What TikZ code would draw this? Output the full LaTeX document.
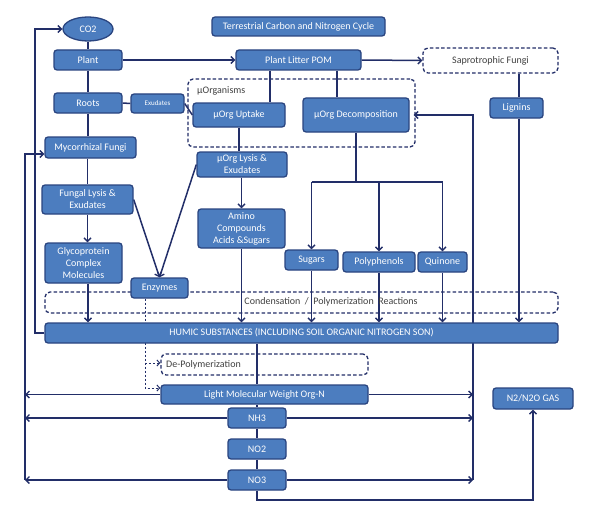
\documentclass[tikz,border=0pt]{standalone}
\usepackage{fontspec}
\setmainfont{Carlito}
\usetikzlibrary{arrows.meta,shapes.geometric}
\pgfdeclarelayer{bg}
\pgfdeclarelayer{paper}
\pgfsetlayers{paper,bg,main}
\definecolor{boxfill}{HTML}{4C7DBF}
\definecolor{boxline}{HTML}{2A4580}
\definecolor{conn}{HTML}{222E68}
\definecolor{gtext}{HTML}{404040}
\begin{document}
\begin{tikzpicture}[x=1pt,y=-1pt,
  txt/.style={font=\fontsize{10}{12}\selectfont},
  bx/.style={txt,draw=boxline,line width=1.3pt,fill=boxfill,rounded corners=3pt,text=white,inner sep=0pt,align=center},
  dbox/.style={draw=conn,line width=1.3pt,dash pattern=on 3.5pt off 2.2pt,rounded corners=5pt,inner sep=0pt},
  gt/.style={txt,text=gtext,inner sep=0pt},
  ln/.style={draw=conn,line width=1.5pt},
  ar/.style={ln,-{Straight Barb[length=3.5pt,width=7pt,line width=1.4pt]}},
  dar/.style={draw=conn,line width=1pt,dash pattern=on 2.4pt off 1.6pt,-{Straight Barb[length=2.8pt,width=6pt,line width=1pt]}}
]
\begin{pgfonlayer}{paper}
\useasboundingbox[fill=white] (0,0) rectangle (592,511);
\end{pgfonlayer}

% coordinates for buses
\coordinate (lbus) at (25,0);
\coordinate (cbus) at (35,0);
\coordinate (rbus) at (473,0);
\coordinate (xa) at (270,0);
\coordinate (xb) at (337,0);
\coordinate (xl) at (88,0);
\coordinate (xg) at (519,0);
\coordinate (xe) at (145,0);
\coordinate (br) at (356,182);
\coordinate (myin) at (25,154);
\coordinate (ez1) at (145,363);
\coordinate (ez2) at (145,388);
\coordinate (bot) at (257,500);

% dashed frames
\node[dbox,minimum width=227pt,minimum height=68pt] (uorg) at (301.5,113) {};
\node[gt,anchor=west] (uorglbl) at (197,91) {µOrganisms};
\node[dbox,minimum width=513pt,minimum height=21pt] (cond) at (301.5,302.5) {};
\node[gt] (condtxt) at (331,302) {Condensation\ \ /\ \ Polymerization\ \ Reactions};
\node[dbox,minimum width=207pt,minimum height=21pt] (depoly) at (264.5,364.5) {};
\node[gt,anchor=west] (depolytxt) at (166,364.5) {De-Polymerization};
\node[dbox,minimum width=135pt,minimum height=25pt,gt] (sapro) at (490.5,60.5) {Saprotrophic Fungi};

% boxes
\node[bx,ellipse,minimum width=50pt,minimum height=24pt] (co2) at (88,29) {CO2};
\node[bx,minimum width=173pt,minimum height=19pt] (title) at (298.5,26.5) {Terrestrial Carbon and Nitrogen Cycle};
\node[bx,minimum width=68pt,minimum height=20pt] (plant) at (88,60) {Plant};
\node[bx,minimum width=125pt,minimum height=20pt] (pom) at (298.5,60) {Plant Litter POM};
\node[bx,minimum width=68pt,minimum height=20pt] (roots) at (88,103) {Roots};
\node[bx,minimum width=53pt,minimum height=19pt,font=\fontsize{7}{8}\selectfont] (exud) at (157.5,103.5) {Exudates};
\node[bx,minimum width=92pt,minimum height=24pt] (uptake) at (239,115) {µOrg Uptake};
\node[bx,minimum width=106pt,minimum height=34pt] (decomp) at (356,115) {µOrg Decomposition};
\node[bx,minimum width=53pt,minimum height=20pt] (lignins) at (516.5,108) {Lignins};
\node[bx,minimum width=91pt,minimum height=21pt] (myco) at (90.5,147.5) {Mycorrhizal Fungi};
\node[bx,minimum width=90pt,minimum height=25pt] (lysis) at (242,164.5) {µOrg Lysis \&\\Exudates};
\node[bx,minimum width=91pt,minimum height=29pt] (fungal) at (87.5,199.5) {Fungal Lysis \&\\Exudates};
\node[bx,minimum width=87pt,minimum height=39pt] (amino) at (241.5,228.5) {Amino\\Compounds\\Acids \&Sugars};
\node[bx,minimum width=77pt,minimum height=40pt] (glyco) at (83.5,263) {Glycoprotein\\Complex\\Molecules};
\node[bx,minimum width=53pt,minimum height=20pt] (sugars) at (311.5,260) {Sugars};
\node[bx,minimum width=72pt,minimum height=20pt] (poly) at (379,262) {Polyphenols};
\node[bx,minimum width=49pt,minimum height=20pt] (quin) at (442.5,262) {Quinone};
\node[bx,minimum width=57pt,minimum height=20pt] (enzymes) at (159.5,288) {Enzymes};
\node[bx,minimum width=513pt,minimum height=20pt] (humic) at (301.5,333) {HUMIC SUBSTANCES (INCLUDING SOIL ORGANIC NITROGEN SON)};
\node[bx,minimum width=207pt,minimum height=19pt] (lmw) at (264.5,394.5) {Light Molecular Weight Org-N};
\node[bx,minimum width=58pt,minimum height=20pt] (nh3) at (257,418) {NH3};
\node[bx,minimum width=58pt,minimum height=20pt] (no2) at (257,449) {NO2};
\node[bx,minimum width=58pt,minimum height=20pt] (no3) at (257,480) {NO3};
\node[bx,minimum width=80pt,minimum height=21pt] (n2) at (533,398.5) {N2/N2O GAS};

\begin{pgfonlayer}{bg}
% top part
\draw[ln] (co2.south) -- (plant.north);
\draw[ar] (plant.east) -- (pom.west);
\draw[ar] (pom.east) -- (sapro.west);
\draw[ln] (plant.south) -- (roots.north);
\draw[ln] (roots.east) -- (exud.west);
\draw[ln] (exud.east) -- (uptake.west);
\draw[ln] (roots.south) -- (roots.south |- myco.north);
\draw[ln] (pom.south -| xa) -- (uptake.north -| xa);
\draw[ln] (pom.south -| xb) -- (decomp.north -| xb);
\draw[ln] (sapro.south -| xg) -- (lignins.north -| xg);
\draw[ar] (lignins.south -| xg) -- (humic.north -| xg);
% fungi column
\draw[ln] (fungal.north |- myco.south) -- (fungal.north);
\draw[ar] (fungal.south) -- (fungal.south |- glyco.north);
\draw[ar] (glyco.south -| xl) -- (humic.north -| xl);
\draw[ar] (fungal.east) -- (enzymes.north);
% microorganism column
\draw[ln] (uptake.south) -- (uptake.south |- lysis.north);
\draw[ar] (lysis.west) -- (enzymes.north);
\draw[ar] (amino.north |- lysis.south) -- (amino.north);
\draw[ar] (amino.south) -- (amino.south |- humic.north);
% decomposition branch
\draw[ln] (decomp.south) -- (br);
\draw[ln] (br -| sugars.north) -- (br -| quin.north);
\draw[ar] (br -| sugars.north) -- (sugars.north);
\draw[ar] (br -| poly.north) -- (poly.north);
\draw[ar] (br -| quin.north) -- (quin.north);
\draw[ar] (sugars.south) -- (sugars.south |- humic.north);
\draw[ar] (poly.south) -- (poly.south |- humic.north);
\draw[ar] (quin.south) -- (quin.south |- humic.north);
% return to CO2
\draw[ar] (humic.west) -- (humic.west -| cbus) -- (cbus |- co2.west) -- (co2.west);
% enzymes dashed
\draw[dar] (enzymes.south -| xe) -- (ez2) -- (ez2 -| lmw.west);
\draw[dar] (ez1) -- (ez1 -| depoly.west);
% nitrogen column
\draw[ln] (humic.south -| nh3.north) -- (lmw.north -| nh3.north);
\draw[ln] (lmw.south -| nh3.north) -- (nh3.north);
\draw[ln] (nh3.south) -- (no2.north);
\draw[ln] (no2.south) -- (no3.north);
\draw[ar] (no3.south) -- (bot) -- (bot -| n2.south) -- (n2.south);
% left bus
\draw[ar] (no3.west -| lbus) -- (myin) -- (myin -| myco.west);
\draw[ar] (lmw.west) -- (lmw.west -| lbus);
\draw[ar] (nh3.west) -- (nh3.west -| lbus);
\draw[ar] (no3.west) -- (no3.west -| lbus);
% right bus
\draw[ar] (lmw.east) -- (lmw.east -| rbus);
\draw[ar] (nh3.east) -- (nh3.east -| rbus);
\draw[ar] (no3.east) -- (no3.east -| rbus);
\draw[ar] (no3.east -| rbus) -- (rbus |- decomp.east) -- ([xshift=4pt]decomp.east);
\end{pgfonlayer}
\end{tikzpicture}
\end{document}
